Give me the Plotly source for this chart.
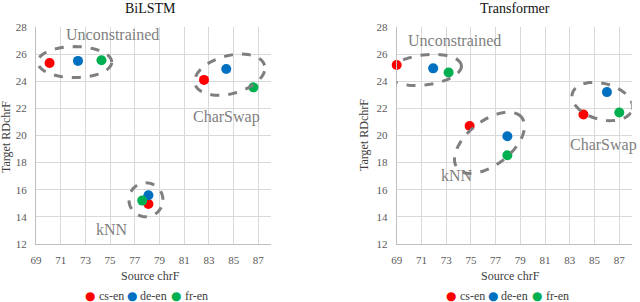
import math
import plotly.graph_objects as go

# ---- data ----
pairs = ["cs-en", "de-en", "fr-en"]
colors = {"cs-en": "#FF0000", "de-en": "#0070C0", "fr-en": "#00B050"}
groups = ["Unconstrained", "CharSwap", "kNN"]

bilstm_x = {"cs-en": [70.1, 82.6, 78.1], "de-en": [72.4, 84.4, 78.1], "fr-en": [74.3, 86.6, 77.6]}
bilstm_y = {"cs-en": [25.35, 24.1, 14.95], "de-en": [25.5, 24.9, 15.6], "fr-en": [25.55, 23.55, 15.2]}
trans_x = {"cs-en": [69.0, 84.1, 74.9], "de-en": [71.95, 86.0, 77.95], "fr-en": [73.2, 87.0, 77.95]}
trans_y = {"cs-en": [25.2, 21.55, 20.7], "de-en": [24.95, 23.2, 19.95], "fr-en": [24.65, 21.7, 18.55]}

x_ticks = [69, 71, 73, 75, 77, 79, 81, 83, 85, 87]
y_ticks = [12, 14, 16, 18, 20, 22, 24, 26, 28]

SERIF = "Liberation Serif"
GRAY = "#7F7F7F"
W, H = 640, 302

fig = go.Figure()

panels = [
    ("x", "y", bilstm_x, bilstm_y),
    ("x2", "y2", trans_x, trans_y),
]
for xa, ya, dx, dy in panels:
    for p in pairs:
        fig.add_trace(go.Scatter(
            x=dx[p], y=dy[p], mode="markers", name=p, xaxis=xa, yaxis=ya,
            showlegend=False, marker=dict(color=colors[p], size=10),
            cliponaxis=False,
        ))

# ellipse styling per panel/group: (screen px offset dx, dy from group centre, rx, ry, angle deg clockwise)
ell_style = {
    ("x", "Unconstrained"): (-0.8, -0.5, 37, 15.5, 0),
    ("x", "CharSwap"): (1.1, 3.5, 36, 19, 15),
    ("x", "kNN"): (0.6, -0.2, 17, 17, 0),
    ("x2", "Unconstrained"): (2, -1.2, 37, 15, 7),
    ("x2", "kNN"): (1, -2.2, 41, 22, 38),
    ("x2", "CharSwap"): (0.9, 1.8, 31, 18, -15),
}

def ellipse_path(rx, ry, ang, ox, oy, n=64):
    a = math.radians(ang)
    pts = []
    for i in range(n):
        t = 2 * math.pi * i / n
        ex, ey = rx * math.cos(t), ry * math.sin(t)
        sx = ex * math.cos(a) - ey * math.sin(a)
        sy = ex * math.sin(a) + ey * math.cos(a)
        pts.append((sx + ox, sy + oy))
    return "M " + " L ".join(f"{px:.2f},{py:.2f}" for px, py in pts) + " Z"

for xa, ya, dx, dy in panels:
    for gi, g in enumerate(groups):
        xs = [dx[p][gi] for p in pairs]
        ys = [dy[p][gi] for p in pairs]
        cx = (min(xs) + max(xs)) / 2
        cy = (min(ys) + max(ys)) / 2
        ox, oy, rx, ry, ang = ell_style[(xa, g)]
        fig.add_shape(
            type="path", xref=xa, yref=ya, xsizemode="pixel", ysizemode="pixel",
            xanchor=cx, yanchor=cy, path=ellipse_path(rx, ry, ang, ox, oy),
            line=dict(color=GRAY, width=3, dash="dash"), layer="above",
        )

# group labels (data coordinates)
labels = [
    ("x", "y", "Unconstrained", 75.2, 27.45),
    ("x", "y", "CharSwap", 84.45, 21.35),
    ("x", "y", "kNN", 75.15, 13.05),
    ("x2", "y2", "Unconstrained", 73.7, 27.0),
    ("x2", "y2", "kNN", 73.85, 17.05),
    ("x2", "y2", "CharSwap", 85.7, 19.3),
]
for xa, ya, t, lx, ly in labels:
    fig.add_annotation(x=lx, y=ly, xref=xa, yref=ya, text=t, showarrow=False,
                       xanchor="center", yanchor="middle",
                       font=dict(family=SERIF, size=16, color=GRAY))

def px(x): return x / W
def py(y): return 1 - y / H

def text_at(x, y, t, size, color, xanchor="center", **kw):
    fig.add_annotation(x=px(x), y=py(y), xref="paper", yref="paper", text=t,
                       showarrow=False, yanchor="middle", xanchor=xanchor,
                       font=dict(family=SERIF, size=size, color=color), **kw)

# titles
text_at(150, 8, "BiLSTM", 14, "#111111")
text_at(515, 8, "Transformer", 14, "#111111")
# axis titles
text_at(150, 276, "Source chrF", 12, "#404040")
text_at(510, 276, "Source chrF", 12, "#404040")
text_at(6, 137, "Target RDchrF", 12, "#404040", textangle=-90)
text_at(364, 135, "Target RDchrF", 12, "#404040", textangle=-90)

# legends
legend_items = [
    (90, 96.5), (132.3, 138), (176, 182.5),
]
for base in (0, 361):
    for (dot_x, txt_x), p in zip(legend_items, pairs):
        text_at(dot_x + base, 296, "●", 12, colors[p])
        fig.layout.annotations[-1].font.family = "DejaVu Sans"
        text_at(txt_x + base, 295.5, p, 12, "#404040", xanchor="left")

axis_common = dict(
    showgrid=True, gridcolor="#D9D9D9", gridwidth=1, zeroline=False,
    showline=True, linecolor="#BFBFBF", linewidth=1, ticks="", automargin=False,
    tickfont=dict(family=SERIF, size=11, color="#595959"), ticklabelstandoff=6,
)
xcommon = dict(axis_common, range=[69, 88], tickvals=x_ticks, ticktext=[str(v) for v in x_ticks])
ycommon = dict(axis_common, range=[12, 28], tickvals=y_ticks, ticktext=[str(v) for v in y_ticks])

fig.update_layout(
    width=W, height=H, margin=dict(l=0, r=0, t=0, b=0, autoexpand=False),
    paper_bgcolor="white", plot_bgcolor="white",
    xaxis=dict(xcommon, domain=[0.05625, 0.423], anchor="y"),
    yaxis=dict(ycommon, domain=[0.192, 0.9106], anchor="x"),
    xaxis2=dict(xcommon, domain=[0.6198, 0.9870], anchor="y2"),
    yaxis2=dict(ycommon, domain=[0.192, 0.9106], anchor="x2"),
    showlegend=False,
    hovermode=False,
)

fig.write_html(
    "out.html",
    config={"displayModeBar": False, "staticPlot": True},
    post_script="document.body.style.margin='0';document.body.style.padding='0';document.body.style.overflow='hidden';",
)
